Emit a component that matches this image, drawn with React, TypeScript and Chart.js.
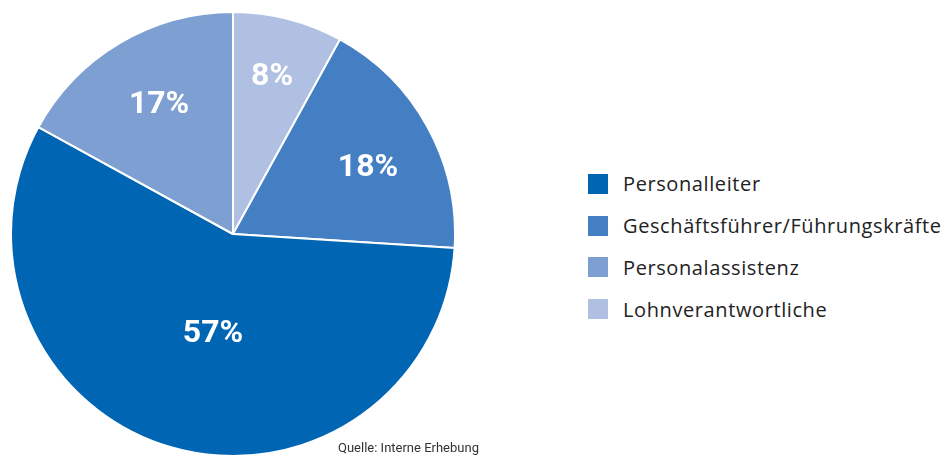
import React, { useEffect, useRef } from "react";
import { Chart, registerables } from "chart.js";

Chart.register(...registerables);

// Legend order
const categories = [
  "Personalleiter",
  "Geschäftsführer/Führungskräfte",
  "Personalassistenz",
  "Lohnverantwortliche",
];
const shares = [57, 18, 17, 8];
const colors = ["#0065B2", "#447EC3", "#7E9FD2", "#AFC0E3"];
// order in which slices are drawn clockwise from 12 o'clock
const drawOrder = [3, 1, 0, 2];
const labelRadius = [0.733, 0.679, 0.455, 0.674]; // per drawn slice
const labelAngleShift = [-0.5, 2.4, -4.8, 1.0]; // degrees, per drawn slice
const sourceText = "Quelle: Interne Erhebung";

const labelPlugin = {
  id: "pctLabels",
  afterDatasetsDraw(chart: any) {
    const ctx = chart.ctx;
    const meta = chart.getDatasetMeta(0);
    const ds = chart.data.datasets[0];
    ctx.save();
    ctx.fillStyle = "#ffffff";
    ctx.font = "bold 32px Roboto, 'DejaVu Sans Condensed', sans-serif";
    ctx.textAlign = "center";
    ctx.textBaseline = "middle";
    meta.data.forEach((arc: any, i: number) => {
      const p = arc.getProps(["x", "y", "startAngle", "endAngle", "outerRadius"], true);
      const mid = (p.startAngle + p.endAngle) / 2 + (labelAngleShift[i] * Math.PI) / 180;
      const r = p.outerRadius * labelRadius[i];
      ctx.fillText(ds.data[i] + "%", p.x + Math.cos(mid) * r, p.y + Math.sin(mid) * r + 1);
    });
    ctx.restore();
  },
};

export default function App() {
  const ref = useRef<HTMLCanvasElement>(null);
  useEffect(() => {
    document.body.style.margin = "0";
    const labels = drawOrder.map((i) => categories[i]);
    const data = drawOrder.map((i) => shares[i]);
    const bg = drawOrder.map((i) => colors[i]);
    const chart = new Chart(ref.current!, {
      type: "pie",
      data: {
        labels,
        datasets: [
          {
            data,
            backgroundColor: bg,
            borderColor: "#ffffff",
            borderWidth: 2,
          },
        ],
      },
      options: {
        animation: false,
        responsive: false,
        maintainAspectRatio: false,
        layout: { padding: 0 },
        plugins: {
          legend: { display: false },
          tooltip: { enabled: false },
        },
      },
      plugins: [labelPlugin],
    });
    return () => chart.destroy();
  }, []);

  return (
    <div
      style={{
        position: "relative",
        width: 941,
        height: 455,
        overflow: "hidden",
        background: "#ffffff",
      }}
    >
      <canvas
        ref={ref}
        width={446}
        height={446}
        style={{ position: "absolute", left: 10, top: 11, width: 446, height: 446 }}
      />
      <div style={{ position: "absolute", left: 588, top: 163 }}>
        {categories.map((c, i) => (
          <div
            key={c}
            style={{
              display: "flex",
              alignItems: "center",
              height: 41.8,
              fontFamily: "'Open Sans', sans-serif",
              fontSize: 20,
              letterSpacing: 0.6,
              color: "#222222",
              whiteSpace: "nowrap",
            }}
          >
            <span
              style={{
                display: "inline-block",
                width: 20,
                height: 20,
                background: colors[i],
                marginRight: 15,
              }}
            />
            <span>{c}</span>
          </div>
        ))}
      </div>
      <div
        style={{
          position: "absolute",
          left: 338,
          top: 440,
          fontFamily: "Roboto, sans-serif",
          fontSize: 13,
          color: "#333333",
          whiteSpace: "nowrap",
        }}
      >
        {sourceText}
      </div>
    </div>
  );
}
